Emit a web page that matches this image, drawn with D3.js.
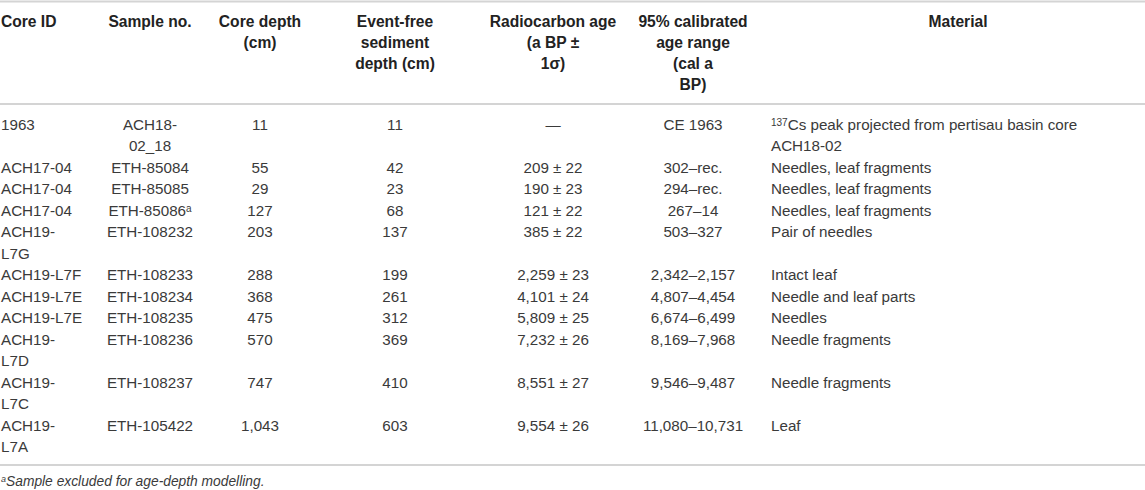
<!DOCTYPE html>
<html>
<head>
<meta charset="utf-8">
<script src="https://cdn.jsdelivr.net/npm/d3@7"></script>
<style>
  html, body { margin: 0; padding: 0; background: #fff; }
  svg { display: block; font-family: "Liberation Sans", Arial, Helvetica, sans-serif; }
</style>
</head>
<body>
<svg id="chart" width="1145" height="490"></svg>
<script>
// ---- table content ----
const headers = [
  "Core ID",
  "Sample no.",
  "Core depth\n(cm)",
  "Event-free\nsediment\ndepth (cm)",
  "Radiocarbon age\n(a BP ±\n1σ)",
  "95% calibrated\nage range\n(cal a\nBP)",
  "Material"
];
const coreIds = ["1963", "ACH17-04", "ACH17-04", "ACH17-04", "ACH19-\nL7G", "ACH19-L7F", "ACH19-L7E", "ACH19-L7E", "ACH19-\nL7D", "ACH19-\nL7C", "ACH19-\nL7A"];
const sampleNos = ["ACH18-\n02_18", "ETH-85084", "ETH-85085", "ETH-85086^{a}", "ETH-108232", "ETH-108233", "ETH-108234", "ETH-108235", "ETH-108236", "ETH-108237", "ETH-105422"];
const coreDepths = ["11", "55", "29", "127", "203", "288", "368", "475", "570", "747", "1,043"];
const eventFreeDepths = ["11", "42", "23", "68", "137", "199", "261", "312", "369", "410", "603"];
const radiocarbonAges = ["—", "209 ± 22", "190 ± 23", "121 ± 22", "385 ± 22", "2,259 ± 23", "4,101 ± 24", "5,809 ± 25", "7,232 ± 26", "8,551 ± 27", "9,554 ± 26"];
const calibratedRanges = ["CE 1963", "302–rec.", "294–rec.", "267–14", "503–327", "2,342–2,157", "4,807–4,454", "6,674–6,499", "8,169–7,968", "9,546–9,487", "11,080–10,731"];
const materials = ["^{137}Cs peak projected from pertisau basin core\nACH18-02", "Needles, leaf fragments", "Needles, leaf fragments", "Needles, leaf fragments", "Pair of needles", "Intact leaf", "Needle and leaf parts", "Needles", "Needle fragments", "Needle fragments", "Leaf"];
const footnote = "^{a}Sample excluded for age-depth modelling.";

// ---- layout ----
const W = 1145;
const columns = [coreIds, sampleNos, coreDepths, eventFreeDepths, radiocarbonAges, calibratedRanges, materials];
const colIdx = d3.range(columns.length);
const colX = d3.scaleOrdinal().domain(colIdx).range([1, 150, 260, 395, 553, 693, 771]);
const headX = d3.scaleOrdinal().domain(colIdx).range([1, 150, 260, 395, 553, 693, 958]);
const colAnchor = d3.scaleOrdinal().domain(colIdx).range(["start", "middle", "middle", "middle", "middle", "middle", "start"]);
const headAnchor = d3.scaleOrdinal().domain(colIdx).range(["start", "middle", "middle", "middle", "middle", "middle", "middle"]);

const headLineY = d3.scaleLinear().domain([0, 1]).range([21, 42.1]);
const bodyLineY = d3.scaleLinear().domain([0, 1]).range([124, 145.5]);

const svg = d3.select("#chart");

// rules
const rules = [1.5, 104, 465];
svg.selectAll("line.rule").data(rules).join("line")
  .attr("class", "rule")
  .attr("x1", 0).attr("x2", W)
  .attr("y1", d => d).attr("y2", d => d)
  .attr("stroke", "#d4d4d4").attr("stroke-width", 2);

// helper: render text with ^{...} superscripts (baseline-shift keeps the line baseline intact)
function addRich(textSel, str, supSize) {
  const parts = str.split(/(\^\{[^}]*\})/).filter(s => s.length);
  parts.forEach(p => {
    const m = p.match(/^\^\{([^}]*)\}$/);
    if (m) {
      textSel.append("tspan").attr("font-size", supSize).attr("baseline-shift", "4.5px").text(m[1]);
    } else {
      textSel.append("tspan").text(p);
    }
  });
}

// header
colIdx.forEach(ci => {
  const lines = headers[ci].split("\n");
  lines.forEach((ln, li) => {
    svg.append("text")
      .attr("x", headX(ci))
      .attr("y", headLineY(li) + 5.6)
      .attr("text-anchor", headAnchor(ci))
      .attr("font-weight", "bold")
      .attr("font-size", 15.6)
      .attr("fill", "#222")
      .text(ln);
  });
});

// body rows
const nRows = coreIds.length;
let lineCursor = 0;
for (let r = 0; r < nRows; r++) {
  const cells = columns.map(c => c[r].split("\n"));
  const nLines = d3.max(cells, c => c.length);
  cells.forEach((lines, ci) => {
    lines.forEach((ln, li) => {
      const t = svg.append("text")
        .attr("x", colX(ci))
        .attr("y", bodyLineY(lineCursor + li) + 5.5)
        .attr("text-anchor", colAnchor(ci))
        .attr("font-size", 15.2)
        .attr("fill", "#3a3a3a");
      addRich(t, ln, 10);
    });
  });
  lineCursor += nLines;
}

// footnote
const fn = svg.append("text")
  .attr("x", 1).attr("y", 485.5)
  .attr("font-size", 13.8).attr("font-style", "italic").attr("fill", "#3a3a3a");
addRich(fn, footnote, 9);
</script>
</body>
</html>
